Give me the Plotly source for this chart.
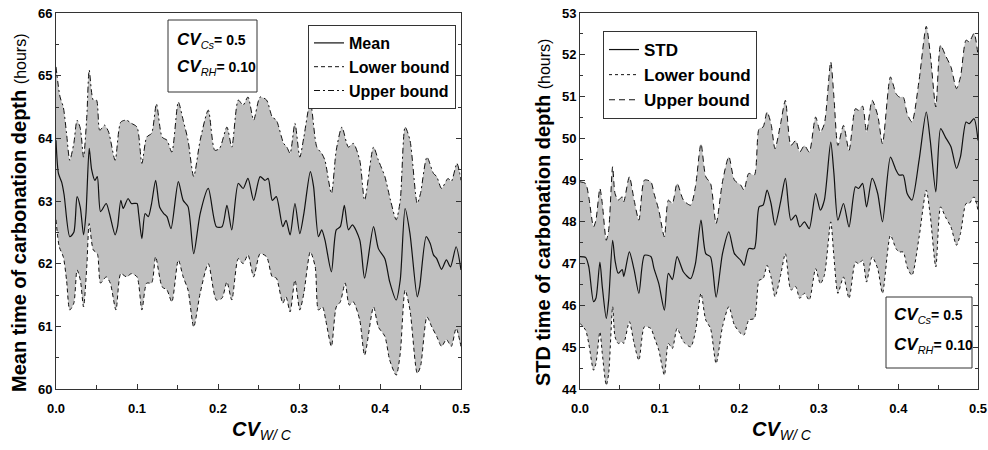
import plotly.graph_objects as go

# ---------------- data ----------------
left_mean_x = [0, 0.003, 0.007, 0.01, 0.017, 0.022, 0.026, 0.03, 0.034, 0.037, 0.041, 0.044, 0.048, 0.051, 0.055,
               0.062, 0.066, 0.073, 0.076, 0.08, 0.083, 0.089, 0.093, 0.1, 0.102, 0.106, 0.11, 0.114, 0.118, 0.123,
               0.128, 0.133, 0.137, 0.142, 0.151, 0.157, 0.163, 0.17, 0.178, 0.188, 0.198, 0.205, 0.211, 0.217, 0.225,
               0.231, 0.237, 0.244, 0.252, 0.258, 0.262, 0.267, 0.272, 0.28, 0.284, 0.289, 0.295, 0.301, 0.306, 0.314,
               0.318, 0.324, 0.328, 0.332, 0.34, 0.346, 0.351, 0.356, 0.361, 0.366, 0.375, 0.381, 0.392, 0.398, 0.406,
               0.412, 0.42, 0.425, 0.431, 0.437, 0.446, 0.449, 0.457, 0.462, 0.466, 0.47, 0.476, 0.482, 0.487, 0.494, 0.5]
left_mean_y = [63.97, 63.44, 63.3, 63.1, 62.43, 62.5, 63.07, 62.9, 62.46, 62.8, 63.84, 63.5, 63.33, 63.39, 62.83,
               62.96, 62.8, 62.46, 62.59, 63.01, 62.88, 63.04, 62.96, 62.96, 62.8, 62.4, 62.8, 62.75, 62.96, 63.33,
               62.9, 62.8, 62.75, 62.56, 63.31, 63.01, 62.91, 62.16, 62.8, 63.2, 62.59, 62.59, 62.93, 62.54, 63.28,
               63.2, 63.36, 63.01, 63.39, 63.33, 63.36, 63.01, 63.07, 62.59, 62.69, 62.46, 62.96, 62.48, 62.8, 63.47,
               63.23, 62.43, 62.54, 62.38, 61.87, 62.54, 62.59, 62.93, 62.54, 62.62, 62.38, 61.77, 62.59, 62.24, 62.08,
               61.71, 61.42, 61.74, 62.88, 62.48, 61.47, 61.63, 62.43, 62.32, 62.14, 62.08, 61.91, 62.06, 61.95, 62.27, 61.9]

left_upper_x = [0, 0.005, 0.009, 0.013, 0.017, 0.022, 0.026, 0.03, 0.034, 0.038, 0.041, 0.046, 0.05, 0.054, 0.06,
                0.065, 0.073, 0.08, 0.087, 0.093, 0.1, 0.106, 0.112, 0.118, 0.124, 0.131, 0.137, 0.143, 0.151, 0.157,
                0.163, 0.17, 0.178, 0.188, 0.196, 0.202, 0.211, 0.217, 0.225, 0.231, 0.237, 0.244, 0.252, 0.26, 0.267,
                0.272, 0.281, 0.285, 0.289, 0.295, 0.301, 0.306, 0.314, 0.322, 0.328, 0.332, 0.34, 0.346, 0.353, 0.361,
                0.367, 0.375, 0.381, 0.392, 0.398, 0.406, 0.413, 0.42, 0.425, 0.431, 0.437, 0.446, 0.45, 0.458, 0.466,
                0.47, 0.476, 0.484, 0.488, 0.495, 0.5]
left_upper_y = [65.14, 64.66, 64.5, 64.08, 63.65, 63.92, 64.29, 64.16, 63.7, 64.34, 65.09, 64.61, 64.61, 64.13, 64.21,
                64.1, 63.65, 64.26, 64.29, 64.24, 64.18, 63.6, 64.02, 64.08, 64.55, 64.02, 63.97, 63.78, 64.58, 64.29,
                63.97, 63.39, 63.97, 64.45, 63.81, 63.84, 64.18, 63.86, 64.61, 64.53, 64.66, 64.29, 64.66, 64.61, 64.34,
                64.29, 63.92, 63.86, 63.76, 64.24, 63.7, 64.02, 64.58, 63.86, 63.76, 63.65, 63.12, 63.81, 64.18, 63.86,
                63.92, 63.65, 63.01, 63.86, 63.65, 63.39, 63.01, 62.7, 63.01, 64.18, 63.97, 62.96, 63.12, 63.7, 63.44,
                63.39, 63.2, 63.36, 63.31, 63.6, 63.33]

left_lower_x = [0, 0.004, 0.009, 0.013, 0.017, 0.022, 0.026, 0.03, 0.034, 0.038, 0.041, 0.046, 0.051, 0.055, 0.062,
                0.067, 0.074, 0.08, 0.087, 0.093, 0.1, 0.106, 0.112, 0.118, 0.123, 0.131, 0.137, 0.143, 0.151, 0.157,
                0.163, 0.17, 0.178, 0.188, 0.198, 0.205, 0.211, 0.217, 0.225, 0.231, 0.237, 0.244, 0.252, 0.26, 0.267,
                0.272, 0.28, 0.284, 0.289, 0.295, 0.301, 0.306, 0.314, 0.32, 0.324, 0.329, 0.333, 0.34, 0.346, 0.351,
                0.357, 0.362, 0.367, 0.375, 0.381, 0.392, 0.398, 0.406, 0.412, 0.42, 0.425, 0.431, 0.437, 0.446, 0.45,
                0.458, 0.464, 0.47, 0.476, 0.482, 0.488, 0.494, 0.5]
left_lower_y = [62.7, 62.27, 62.11, 61.74, 61.26, 61.37, 61.9, 61.74, 61.31, 61.95, 62.64, 62.22, 62.16, 61.69, 61.79,
                61.69, 61.26, 61.84, 61.79, 61.84, 61.79, 61.26, 61.69, 61.69, 62.11, 61.63, 61.58, 61.39, 62.06, 61.79,
                61.58, 60.99, 61.53, 62.0, 61.42, 61.45, 61.71, 61.42, 62.08, 62.0, 62.14, 61.79, 62.16, 62.11, 61.79,
                61.77, 61.37, 61.47, 61.23, 61.74, 61.26, 61.53, 62.19, 61.95, 61.26, 61.31, 61.1, 60.68, 61.31, 61.39,
                61.69, 61.34, 61.39, 61.1, 60.54, 61.31, 60.99, 60.84, 60.46, 60.22, 60.57, 61.58, 61.26, 60.25, 60.36,
                61.15, 60.99, 60.84, 60.68, 60.79, 60.68, 60.97, 60.68]

right_x = [0, 0.007, 0.011, 0.017, 0.02, 0.025, 0.028, 0.033, 0.036, 0.041, 0.044, 0.048, 0.053, 0.055, 0.062,
           0.068, 0.074, 0.081, 0.089, 0.093, 0.099, 0.106, 0.111, 0.116, 0.122, 0.13, 0.139, 0.145, 0.152, 0.158,
           0.164, 0.171, 0.179, 0.187, 0.194, 0.202, 0.206, 0.212, 0.219, 0.225, 0.23, 0.235, 0.24, 0.245, 0.252,
           0.258, 0.265, 0.271, 0.276, 0.282, 0.288, 0.296, 0.302, 0.307, 0.315, 0.319, 0.324, 0.331, 0.338, 0.346,
           0.35, 0.355, 0.36, 0.367, 0.374, 0.38, 0.39, 0.397, 0.401, 0.406, 0.411, 0.417, 0.426, 0.435, 0.44,
           0.447, 0.453, 0.459, 0.466, 0.473, 0.478, 0.485, 0.489, 0.495, 0.5]
right_std = [47.17, 47.15, 46.93, 46.09, 46.17, 47.04, 46.45, 45.69, 46.13, 47.56, 47.08, 46.77, 46.86, 46.69, 47.28,
             46.85, 46.29, 47.2, 47.17, 46.88, 46.52, 45.89, 46.77, 46.62, 47.17, 46.8, 46.64, 47.0, 48.04, 47.24,
             47.16, 46.2, 47.24, 47.76, 47.24, 47.08, 46.96, 47.36, 47.36, 48.36, 48.4, 48.76, 48.44, 47.92, 48.48,
             49.04, 48.04, 48.16, 47.88, 48.0, 47.84, 48.68, 48.28, 48.52, 49.91, 49.16, 48.04, 48.44, 47.88, 48.84,
             48.8, 48.92, 48.36, 49.04, 48.68, 48.0, 49.55, 49.24, 49.12, 49.12, 48.68, 48.52, 49.48, 50.63, 49.95,
             48.72, 50.23, 50.03, 49.8, 49.28, 49.56, 50.39, 50.35, 50.47, 49.95]
right_upper = [48.96, 48.92, 48.6, 47.88, 48.04, 48.8, 48.44, 47.56, 47.8, 49.32, 48.68, 48.52, 48.6, 48.48, 49.08,
               48.52, 48.04, 49.0, 48.96, 48.68, 48.28, 47.64, 48.52, 48.44, 48.92, 48.52, 48.4, 48.84, 49.87, 49.08,
               48.92, 47.96, 48.96, 49.56, 49.0, 48.88, 48.76, 49.16, 49.12, 50.23, 50.27, 50.63, 50.35, 49.75, 50.35,
               50.91, 49.83, 49.95, 49.67, 49.83, 49.67, 50.51, 50.15, 50.35, 51.83, 50.99, 49.83, 50.31, 49.71, 50.71,
               50.67, 50.77, 50.15, 50.91, 50.55, 49.87, 51.47, 51.07, 50.99, 50.99, 50.59, 50.39, 51.39, 52.68, 52.03,
               50.75, 52.23, 51.99, 51.71, 51.19, 51.47, 52.35, 52.31, 52.51, 51.99]
right_lower = [45.57, 45.41, 45.09, 44.45, 44.61, 45.37, 44.85, 44.09, 44.37, 45.97, 45.25, 45.09, 45.13, 45.09, 45.61,
               45.09, 44.69, 45.49, 45.45, 45.25, 44.93, 44.33, 45.09, 44.97, 45.45, 45.13, 45.01, 45.37, 46.29, 45.65,
               45.45, 44.61, 45.49, 45.97, 45.53, 45.33, 45.29, 45.65, 45.69, 46.6, 46.64, 46.96, 46.68, 46.21, 46.72,
               47.24, 46.37, 46.45, 46.17, 46.29, 46.13, 46.88, 46.52, 46.72, 48.0, 47.16, 46.29, 46.68, 46.17, 47.04,
               47.0, 47.08, 46.56, 47.16, 46.88, 46.29, 47.68, 47.36, 47.28, 47.28, 46.92, 46.72, 47.64, 48.76, 48.16,
               46.92, 48.36, 48.12, 47.88, 47.44, 47.72, 48.44, 48.44, 48.6, 48.28]

x_ticks = [0.0, 0.1, 0.2, 0.3, 0.4, 0.5]
left_y_ticks = [60, 61, 62, 63, 64, 65, 66]
right_y_ticks = [44, 45, 46, 47, 48, 49, 50, 51, 52, 53]

# ---------------- layout helpers ----------------
W, H = 988, 450
FONT = "Liberation Sans, Arial, sans-serif"
FILL = "#c0c0c0"
AX = "#333333"


def fx(p):
    return p / W


def fy(p):
    return 1 - p / H


SM = 0.7
fig = go.Figure()

# ---- left panel ----
fig.add_trace(go.Scatter(x=left_upper_x + left_lower_x[::-1], y=left_upper_y + left_lower_y[::-1],
                         fill="toself", fillcolor=FILL, mode="lines",
                         line=dict(width=0, shape="spline", smoothing=SM),
                         showlegend=False, hoverinfo="skip", xaxis="x", yaxis="y"))
fig.add_trace(go.Scatter(x=left_mean_x, y=left_mean_y, mode="lines", name="Mean",
                         line=dict(color="#111", width=1.2, shape="spline", smoothing=SM),
                         legend="legend", xaxis="x", yaxis="y"))
fig.add_trace(go.Scatter(x=left_lower_x, y=left_lower_y, mode="lines", name="Lower bound",
                         line=dict(color="#111", width=1, dash="4px,3px", shape="spline", smoothing=SM),
                         legend="legend", xaxis="x", yaxis="y"))
fig.add_trace(go.Scatter(x=left_upper_x, y=left_upper_y, mode="lines", name="Upper bound",
                         line=dict(color="#111", width=1, dash="6px,3px,2px,3px", shape="spline", smoothing=SM),
                         legend="legend", xaxis="x", yaxis="y"))

# ---- right panel ----
fig.add_trace(go.Scatter(x=right_x + right_x[::-1], y=right_upper + right_lower[::-1],
                         fill="toself", fillcolor=FILL, mode="lines",
                         line=dict(width=0, shape="spline", smoothing=SM),
                         showlegend=False, hoverinfo="skip", xaxis="x2", yaxis="y2"))
fig.add_trace(go.Scatter(x=right_x, y=right_std, mode="lines", name="STD",
                         line=dict(color="#111", width=1.2, shape="spline", smoothing=SM),
                         legend="legend2", xaxis="x2", yaxis="y2"))
fig.add_trace(go.Scatter(x=right_x, y=right_lower, mode="lines", name="Lower bound",
                         line=dict(color="#111", width=1, dash="3px,3px", shape="spline", smoothing=SM),
                         legend="legend2", xaxis="x2", yaxis="y2"))
fig.add_trace(go.Scatter(x=right_x, y=right_upper, mode="lines", name="Upper bound",
                         line=dict(color="#111", width=1, dash="6px,4px", shape="spline", smoothing=SM),
                         legend="legend2", xaxis="x2", yaxis="y2"))

tickfont = dict(family=FONT, size=13, color="black", weight="bold")


def xaxis_cfg(domain, anchor):
    return dict(domain=domain, anchor=anchor, range=[0, 0.5], tickvals=x_ticks,
                ticktext=[f"{v:.1f}" for v in x_ticks], ticks="inside", ticklen=5, tickcolor=AX,
                minor=dict(ticks="inside", ticklen=4, dtick=0.05, tickcolor=AX),
                showline=True, linecolor=AX, linewidth=1, mirror=True, showgrid=False, zeroline=False,
                tickfont=tickfont, ticklabelstandoff=7, automargin=False)


def yaxis_cfg(domain, anchor, rng, ticks):
    return dict(domain=domain, anchor=anchor, range=rng, tickvals=ticks, ticks="inside", ticklen=5,
                tickcolor=AX, minor=dict(ticks="inside", ticklen=3, dtick=0.5, tickcolor=AX),
                showline=True, linecolor=AX, linewidth=1, mirror="ticks", showgrid=False, zeroline=False,
                tickfont=tickfont, automargin=False)


ydom = [fy(389), fy(13)]
fig.update_layout(
    template="none",
    width=W, height=H, autosize=False,
    margin=dict(l=0, r=0, t=0, b=0, pad=0, autoexpand=False),
    paper_bgcolor="white", plot_bgcolor="white",
    font=dict(family=FONT, color="black"),
    xaxis=xaxis_cfg([fx(56), fx(461)], "y"),
    yaxis=yaxis_cfg(ydom, "x", [60, 66], left_y_ticks),
    xaxis2=xaxis_cfg([fx(580), fx(978)], "y2"),
    yaxis2=yaxis_cfg(ydom, "x2", [44, 53], right_y_ticks),
    legend=dict(xref="paper", yref="paper", x=fx(308), y=fy(25), xanchor="left", yanchor="top",
                bgcolor="white", bordercolor=AX, borderwidth=1,
                font=dict(family=FONT, size=16, color="black", weight="bold"),
                itemwidth=30, tracegroupgap=0),
    legend2=dict(xref="paper", yref="paper", x=fx(603), y=fy(31), xanchor="left", yanchor="top",
                 bgcolor="white", bordercolor=AX, borderwidth=1,
                 font=dict(family=FONT, size=17, color="black", weight="bold"),
                 itemwidth=30, tracegroupgap=0),
    showlegend=True,
)

# axis titles
ytitle_left = "<b>Mean time of carbonation depth</b> <span style='font-size:16px'>(hours)</span>"
ytitle_right = "<b>STD time of carbonation depth</b> <span style='font-size:16px'>(hours)</span>"
xtitle = "<b><i>CV</i></b><sub><i>W/ C</i></sub>"
anns = [
    dict(x=fx(19), y=fy(213), text=ytitle_left, textangle=-90),
    dict(x=fx(543), y=fy(213), text=ytitle_right, textangle=-90),
]
for a in anns:
    a.update(xref="paper", yref="paper", showarrow=False, xanchor="center", yanchor="middle",
             font=dict(family=FONT, size=20, color="black"))
for cx in (262, 782):
    anns.append(dict(x=fx(cx), y=fy(430), text=xtitle, xref="paper", yref="paper", showarrow=False,
                     xanchor="center", yanchor="middle", font=dict(family=FONT, size=20, color="black")))

# parameter boxes
line1 = ("<b><i>CV</i></b><sub><i><span style='font-size:11px'>Cs</span></i></sub>"
         "<b><span style='font-size:14px'>= 0.5</span></b>")
line2 = ("<b><i>CV</i></b><sub><i><span style='font-size:11px'>RH</span></i></sub>"
         "<b><span style='font-size:14px'>= 0.10</span></b>")
shapes = []
for (x0, x1, y0, y1, tx, l1y, l2y) in [(168, 257, 20, 92, 175, 40, 68), (886, 972, 297, 368, 892, 315, 345)]:
    shapes.append(dict(type="rect", xref="paper", yref="paper", x0=fx(x0), x1=fx(x1), y0=fy(y1), y1=fy(y0),
                       line=dict(color=AX, width=1), fillcolor="white", layer="above"))
    for txt, ly in ((line1, l1y), (line2, l2y)):
        anns.append(dict(x=fx(tx), y=fy(ly), text=txt, xref="paper", yref="paper", showarrow=False,
                         xanchor="left", yanchor="middle", font=dict(family=FONT, size=17, color="black")))

fig.update_layout(annotations=anns, shapes=shapes)
fig.write_html("out.html")
